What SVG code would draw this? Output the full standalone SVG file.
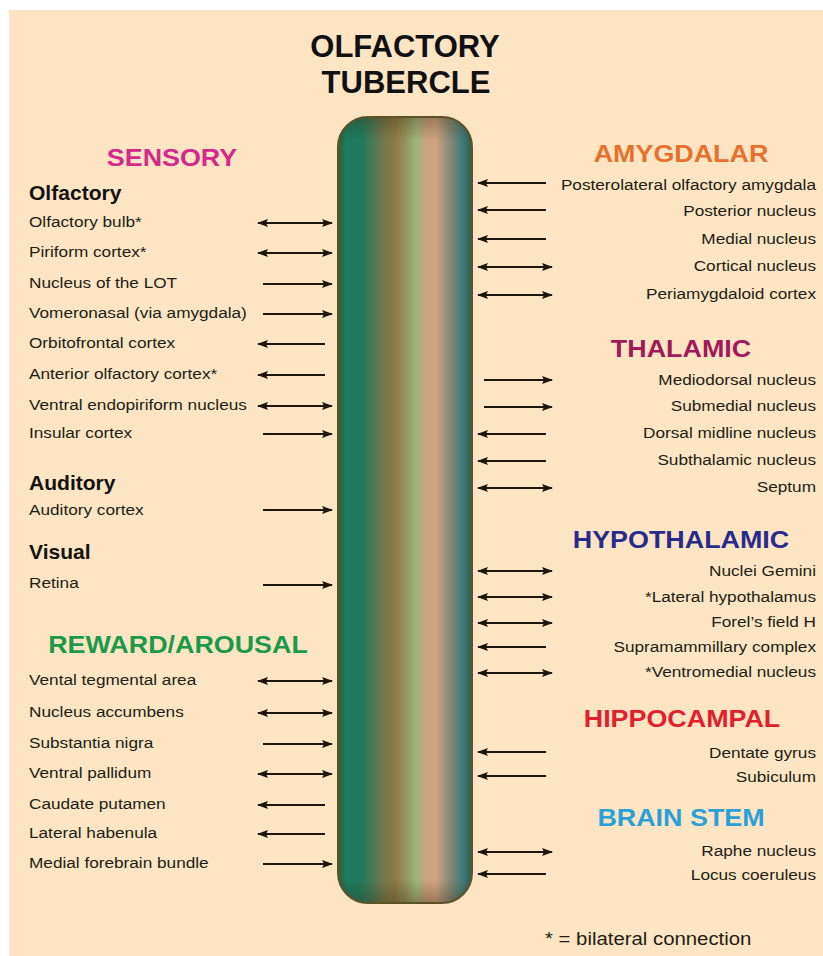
<svg xmlns="http://www.w3.org/2000/svg" width="823" height="956" viewBox="0 0 823 956">
<style>
.t{font-family:"Liberation Sans",Arial,sans-serif;font-size:15.5px;fill:#221d13}
.r{text-anchor:end}
.sub{font-family:"Liberation Sans",Arial,sans-serif;font-size:19.5px;font-weight:bold;fill:#141210}
.h{font-family:"Liberation Sans",Arial,sans-serif;font-size:24px;font-weight:bold;text-anchor:middle}
.title{font-family:"Liberation Sans",Arial,sans-serif;font-size:31px;font-weight:bold;text-anchor:middle;fill:#111}
.note{font-family:"Liberation Sans",Arial,sans-serif;font-size:18.5px;fill:#221d13}
.a{stroke:#1c160c;stroke-width:2.2;fill:none}
.b{marker-start:url(#ah);marker-end:url(#ah)}
.e{marker-end:url(#ah)}
.s{marker-start:url(#ah)}
</style>
<defs>
<marker id="ah" viewBox="0 0 11 9" refX="10" refY="4.5" markerWidth="11" markerHeight="9" markerUnits="userSpaceOnUse" orient="auto-start-reverse">
<path d="M0,0.5 L11,4.5 L0,8.5 L2,4.5 Z" fill="#1c160c"/>
</marker>
<linearGradient id="pg" x1="0" y1="0" x2="1" y2="0">
<stop offset="0" stop-color="#3d5a34"/>
<stop offset="0.06" stop-color="#1b7a5f"/>
<stop offset="0.18" stop-color="#217a5d"/>
<stop offset="0.32" stop-color="#6a7a4c"/>
<stop offset="0.42" stop-color="#8c7a46"/>
<stop offset="0.50" stop-color="#95905a"/>
<stop offset="0.58" stop-color="#9cb67a"/>
<stop offset="0.66" stop-color="#c9a47d"/>
<stop offset="0.73" stop-color="#d1a482"/>
<stop offset="0.83" stop-color="#8a8a78"/>
<stop offset="0.93" stop-color="#3f7b78"/>
<stop offset="1" stop-color="#2f5a50"/>
</linearGradient>
<linearGradient id="vg" x1="0" y1="0" x2="0" y2="1">
<stop offset="0" stop-color="#3a2a10" stop-opacity="0.35"/>
<stop offset="0.03" stop-color="#3a2a10" stop-opacity="0"/>
<stop offset="0.97" stop-color="#3a2a10" stop-opacity="0"/>
<stop offset="1" stop-color="#3a2a10" stop-opacity="0.35"/>
</linearGradient>
</defs>

<rect x="9" y="10" width="814" height="946" fill="#fde5c3"/>

<g id="title">
<text class="title" x="405" y="57">OLFACTORY</text>
<text class="title" x="406" y="93">TUBERCLE</text>
</g>

<g id="tubercle">
<rect x="338" y="117" width="134" height="786" rx="30" fill="url(#pg)"/>
<rect x="338" y="117" width="134" height="786" rx="30" fill="url(#vg)" stroke="#5b5326" stroke-width="2"/>
</g>

<!-- left headings -->
<g id="h-sensory"><text class="h" fill="#d4288a" transform="translate(172,166) scale(1.12,1)">SENSORY</text></g>
<g id="h-olfactory"><text class="sub" transform="translate(29,200) scale(1.08,1)">Olfactory</text></g>
<g id="h-auditory"><text class="sub" transform="translate(29,490) scale(1.08,1)">Auditory</text></g>
<g id="h-visual"><text class="sub" transform="translate(29,559) scale(1.08,1)">Visual</text></g>
<g id="h-reward"><text class="h" fill="#1b9a4a" transform="translate(178,653) scale(1.12,1)">REWARD/AROUSAL</text></g>

<!-- left nodes -->
<g id="n-olfactory-bulb"><text class="t" transform="translate(29,227) scale(1.11,1)">Olfactory bulb*</text></g>
<g id="n-piriform"><text class="t" transform="translate(29,257) scale(1.11,1)">Piriform cortex*</text></g>
<g id="n-lot"><text class="t" transform="translate(29,288) scale(1.11,1)">Nucleus of the LOT</text></g>
<g id="n-vomeronasal"><text class="t" transform="translate(29,318) scale(1.11,1)">Vomeronasal (via amygdala)</text></g>
<g id="n-orbitofrontal"><text class="t" transform="translate(29,348) scale(1.11,1)">Orbitofrontal cortex</text></g>
<g id="n-anterior-olfactory"><text class="t" transform="translate(29,379) scale(1.11,1)">Anterior olfactory cortex*</text></g>
<g id="n-ventral-endopiriform"><text class="t" transform="translate(29,410) scale(1.11,1)">Ventral endopiriform nucleus</text></g>
<g id="n-insular"><text class="t" transform="translate(29,438) scale(1.11,1)">Insular cortex</text></g>
<g id="n-auditory-cortex"><text class="t" transform="translate(29,515) scale(1.11,1)">Auditory cortex</text></g>
<g id="n-retina"><text class="t" transform="translate(29,588) scale(1.11,1)">Retina</text></g>
<g id="n-vta"><text class="t" transform="translate(29,685) scale(1.11,1)">Vental tegmental area</text></g>
<g id="n-accumbens"><text class="t" transform="translate(29,717) scale(1.11,1)">Nucleus accumbens</text></g>
<g id="n-nigra"><text class="t" transform="translate(29,748) scale(1.11,1)">Substantia nigra</text></g>
<g id="n-pallidum"><text class="t" transform="translate(29,778) scale(1.11,1)">Ventral pallidum</text></g>
<g id="n-caudate"><text class="t" transform="translate(29,809) scale(1.11,1)">Caudate putamen</text></g>
<g id="n-habenula"><text class="t" transform="translate(29,838) scale(1.11,1)">Lateral habenula</text></g>
<g id="n-mfb"><text class="t" transform="translate(29,868) scale(1.11,1)">Medial forebrain bundle</text></g>

<!-- right headings -->
<g id="h-amygdalar"><text class="h" fill="#e8702c" transform="translate(681,162) scale(1.12,1)">AMYGDALAR</text></g>
<g id="h-thalamic"><text class="h" fill="#a2195a" transform="translate(681,357) scale(1.12,1)">THALAMIC</text></g>
<g id="h-hypothalamic"><text class="h" fill="#292a8e" transform="translate(681,548) scale(1.12,1)">HYPOTHALAMIC</text></g>
<g id="h-hippocampal"><text class="h" fill="#e0202e" transform="translate(682,727) scale(1.12,1)">HIPPOCAMPAL</text></g>
<g id="h-brainstem"><text class="h" fill="#2aa0d8" transform="translate(681,826) scale(1.12,1)">BRAIN STEM</text></g>

<!-- right nodes -->
<g id="n-posterolateral"><text class="t r" transform="translate(816,190) scale(1.11,1)">Posterolateral olfactory amygdala</text></g>
<g id="n-posterior"><text class="t r" transform="translate(816,216) scale(1.11,1)">Posterior nucleus</text></g>
<g id="n-medial"><text class="t r" transform="translate(816,244) scale(1.11,1)">Medial nucleus</text></g>
<g id="n-cortical"><text class="t r" transform="translate(816,271) scale(1.11,1)">Cortical nucleus</text></g>
<g id="n-periamygdaloid"><text class="t r" transform="translate(816,299) scale(1.11,1)">Periamygdaloid cortex</text></g>
<g id="n-mediodorsal"><text class="t r" transform="translate(816,385) scale(1.11,1)">Mediodorsal nucleus</text></g>
<g id="n-submedial"><text class="t r" transform="translate(816,411) scale(1.11,1)">Submedial nucleus</text></g>
<g id="n-dorsal-midline"><text class="t r" transform="translate(816,438) scale(1.11,1)">Dorsal midline nucleus</text></g>
<g id="n-subthalamic"><text class="t r" transform="translate(816,465) scale(1.11,1)">Subthalamic nucleus</text></g>
<g id="n-septum"><text class="t r" transform="translate(816,492) scale(1.11,1)">Septum</text></g>
<g id="n-gemini"><text class="t r" transform="translate(816,576) scale(1.11,1)">Nuclei Gemini</text></g>
<g id="n-lateral-hypothalamus"><text class="t r" transform="translate(816,602) scale(1.11,1)">*Lateral hypothalamus</text></g>
<g id="n-forel"><text class="t r" transform="translate(816,627) scale(1.11,1)">Forel’s field H</text></g>
<g id="n-supramammillary"><text class="t r" transform="translate(816,652) scale(1.11,1)">Supramammillary complex</text></g>
<g id="n-ventromedial"><text class="t r" transform="translate(816,677) scale(1.11,1)">*Ventromedial nucleus</text></g>
<g id="n-dentate"><text class="t r" transform="translate(816,758) scale(1.11,1)">Dentate gyrus</text></g>
<g id="n-subiculum"><text class="t r" transform="translate(816,782) scale(1.11,1)">Subiculum</text></g>
<g id="n-raphe"><text class="t r" transform="translate(816,856) scale(1.11,1)">Raphe nucleus</text></g>
<g id="n-locus"><text class="t r" transform="translate(816,880) scale(1.11,1)">Locus coeruleus</text></g>

<g id="legend"><text class="note" transform="translate(545,945) scale(1.1,1)">* = bilateral connection</text></g>

<g id="connectors">
<!-- left -->
<line class="a b" x1="258" y1="223" x2="332" y2="223"/>
<line class="a b" x1="258" y1="253" x2="332" y2="253"/>
<line class="a e" x1="263" y1="284" x2="332" y2="284"/>
<line class="a e" x1="263" y1="314" x2="332" y2="314"/>
<line class="a s" x1="258" y1="344" x2="325" y2="344"/>
<line class="a s" x1="258" y1="375" x2="325" y2="375"/>
<line class="a b" x1="258" y1="406" x2="332" y2="406"/>
<line class="a e" x1="263" y1="434" x2="332" y2="434"/>
<line class="a e" x1="263" y1="510" x2="332" y2="510"/>
<line class="a e" x1="263" y1="585" x2="332" y2="585"/>
<line class="a b" x1="258" y1="681" x2="332" y2="681"/>
<line class="a b" x1="258" y1="713" x2="332" y2="713"/>
<line class="a e" x1="263" y1="744" x2="332" y2="744"/>
<line class="a b" x1="258" y1="774" x2="332" y2="774"/>
<line class="a s" x1="258" y1="805" x2="325" y2="805"/>
<line class="a s" x1="258" y1="834" x2="325" y2="834"/>
<line class="a e" x1="263" y1="864" x2="332" y2="864"/>
<!-- right -->
<line class="a s" x1="478" y1="183" x2="546" y2="183"/>
<line class="a s" x1="478" y1="210" x2="546" y2="210"/>
<line class="a s" x1="478" y1="239" x2="546" y2="239"/>
<line class="a b" x1="478" y1="267" x2="552" y2="267"/>
<line class="a b" x1="478" y1="295" x2="552" y2="295"/>
<line class="a e" x1="484" y1="380" x2="552" y2="380"/>
<line class="a e" x1="484" y1="407" x2="552" y2="407"/>
<line class="a s" x1="478" y1="434" x2="546" y2="434"/>
<line class="a s" x1="478" y1="461" x2="546" y2="461"/>
<line class="a b" x1="478" y1="488" x2="552" y2="488"/>
<line class="a b" x1="478" y1="571" x2="552" y2="571"/>
<line class="a b" x1="478" y1="597" x2="552" y2="597"/>
<line class="a b" x1="478" y1="623" x2="552" y2="623"/>
<line class="a s" x1="478" y1="647" x2="546" y2="647"/>
<line class="a b" x1="478" y1="673" x2="552" y2="673"/>
<line class="a s" x1="478" y1="752" x2="546" y2="752"/>
<line class="a s" x1="478" y1="776" x2="546" y2="776"/>
<line class="a b" x1="478" y1="852" x2="552" y2="852"/>
<line class="a s" x1="478" y1="874" x2="546" y2="874"/>
</g>
</svg>
